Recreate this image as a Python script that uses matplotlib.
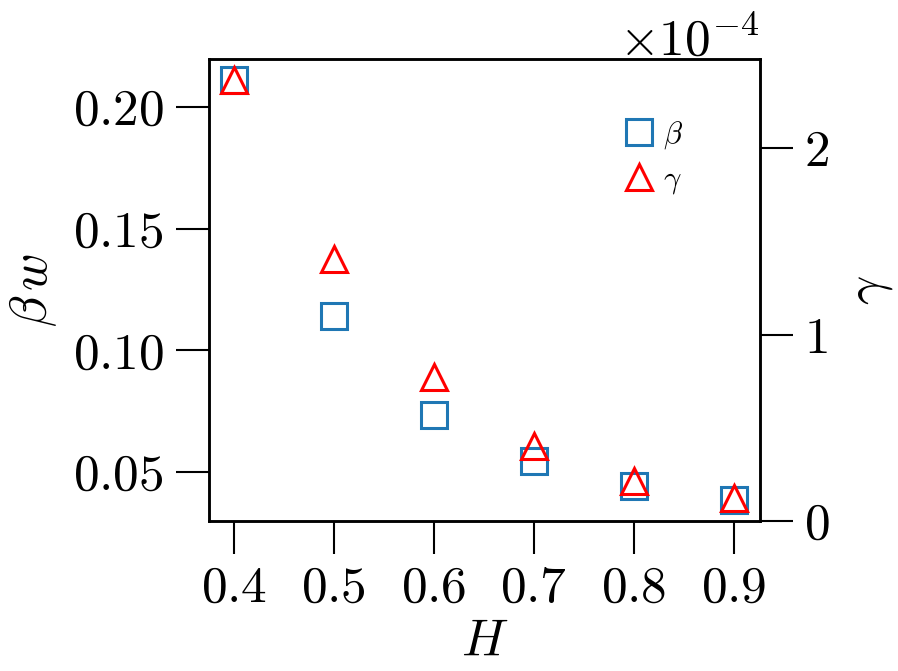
import matplotlib
matplotlib.use("Agg")
import matplotlib.pyplot as plt

plt.rcParams["font.family"] = "serif"
plt.rcParams["font.serif"] = ["cmr10", "DejaVu Serif"]
plt.rcParams["mathtext.fontset"] = "cm"
plt.rcParams["axes.formatter.use_mathtext"] = True
plt.rcParams["axes.unicode_minus"] = True

# values
H = [0.4, 0.5, 0.6, 0.7, 0.8, 0.9]
beta_w = [0.2111, 0.1143, 0.0736, 0.0544, 0.0443, 0.0385]
gamma = [2.366e-4, 1.407e-4, 0.770e-4, 0.402e-4, 0.213e-4, 0.122e-4]

x_ticks = [0.4, 0.5, 0.6, 0.7, 0.8, 0.9]
left_ticks = [0.05, 0.10, 0.15, 0.20]
right_ticks = [0.0, 1e-4, 2e-4]

BLUE = "#1f77b4"
RED = "#ff0000"
FS = 37
MS = 19
MEW = 2.2

fig, ax = plt.subplots(figsize=(8.98, 6.71), dpi=100)
fig.subplots_adjust(left=0.2322, right=0.8463, bottom=0.2235, top=0.9121)
ax2 = ax.twinx()

h1, = ax.plot(H, beta_w, "s", mfc="none", mec=BLUE, ms=MS, mew=MEW,
              label=r"$\beta$")
h2, = ax2.plot(H, gamma, "^", mfc="none", mec=RED, ms=MS, mew=MEW,
               label=r"$\gamma$")

ax.set_xlim(0.375, 0.926)
ax2.set_ylim(0, None)
ax.set_xticks(x_ticks)
ax.set_yticks(left_ticks)
ax2.set_yticks(right_ticks)
ax2.ticklabel_format(axis="y", style="sci", scilimits=(0, 0))

ax.set_xlabel(r"$H$", fontsize=FS, labelpad=6)
ax.set_ylabel(r"$\beta\,w$", fontsize=FS, labelpad=10)
ax2.set_ylabel(r"$\gamma$", fontsize=FS, labelpad=14)

for a in (ax, ax2):
    for sp in a.spines.values():
        sp.set_linewidth(1.8)
    a.tick_params(labelsize=FS, length=24, width=1.5, pad=8)
ax2.yaxis.get_offset_text().set_fontsize(FS)

ax2.legend([h1, h2], [r"$\beta$", r"$\gamma$"], loc="upper left",
           bbox_to_anchor=(0.753, 0.87), frameon=False, fontsize=22,
           handlelength=1.0, handletextpad=0.3, borderpad=0,
           borderaxespad=0)

fig.savefig("out.png", dpi=100)
